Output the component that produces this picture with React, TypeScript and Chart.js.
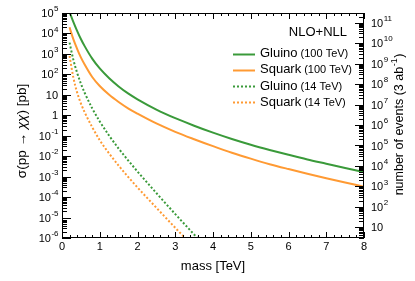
import React, { useEffect, useRef } from 'react';
import { Chart, registerables } from 'chart.js';

Chart.register(...registerables);

// ---------- data (cross sections in pb) ----------
const massesHigh = [0.2, 0.3, 0.4, 0.5, 0.6, 0.8, 1, 1.25, 1.5, 1.75, 2, 2.5, 3, 3.5, 4, 4.5, 5, 5.5, 6, 6.5, 7, 7.5, 8];
const gluino100 = [1.12e5, 3.72e4, 1.35e4, 5.37e3, 2.4e3, 589, 195, 64.6, 25.7, 11.7, 6.03, 1.91, 0.724, 0.309, 0.141, 0.0692, 0.0363, 0.0202, 0.0117, 6.92e-3, 4.27e-3, 2.63e-3, 1.66e-3];
const squark100 = [2.0e4, 5.25e3, 1.78e3, 676, 302, 74.1, 26.9, 10.0, 4.47, 2.19, 1.2, 0.398, 0.155, 0.0676, 0.0309, 0.0148, 7.59e-3, 4.07e-3, 2.34e-3, 1.38e-3, 8.32e-4, 5.13e-4, 3.24e-4];

const massesLow = [0.2, 0.3, 0.4, 0.5, 0.6, 0.8, 1, 1.25, 1.5, 1.75, 2, 2.5, 3, 3.5, 4];
const gluino14 = [3.55e3, 525, 120, 35.5, 12.6, 2.19, 0.501, 0.1, 0.0237, 6.31e-3, 1.78e-3, 1.58e-4, 1.48e-5, 1.48e-6, 1.48e-7];
const squark14 = [794, 70.8, 13.2, 3.8, 1.41, 0.263, 0.0603, 0.0135, 3.47e-3, 9.77e-4, 2.95e-4, 3.02e-5, 3.16e-6, 3.55e-7, 4.0e-8];

// ---------- tick labels ----------
const xTickValues = [0, 1, 2, 3, 4, 5, 6, 7, 8];
const leftExponents = [5, 4, 3, 2, 1, 0, -1, -2, -3, -4, -5, -6];
const rightExponents = [11, 10, 9, 8, 7, 6, 5, 4, 3, 2, 1];

const legendNames = ['Gluino', 'Squark', 'Gluino', 'Squark'];
const legendEnergies = ['(100 TeV)', '(100 TeV)', '(14 TeV)', '(14 TeV)'];
const legendHeader = 'NLO+NLL';
const xTitle = 'mass [TeV]';
const luminosityPerPb = 3e6; // 3 ab^-1 in pb^-1

const GREEN = '#3a9a3a';
const ORANGE = '#ff9a33';
const FONT = '"Liberation Sans", Arial, Helvetica, sans-serif';

function drawPow(ctx: CanvasRenderingContext2D, e: number, x: number, y: number, align: 'left' | 'right') {
  let base = '10';
  let sup = '';
  if (e === 0) base = '1';
  else if (e !== 1) sup = String(e);
  ctx.font = `11px ${FONT}`;
  const bw = ctx.measureText(base).width;
  ctx.font = `8px ${FONT}`;
  const sw = sup ? ctx.measureText(sup).width : 0;
  const x0 = align === 'right' ? x - bw - sw : x;
  ctx.textAlign = 'left';
  ctx.textBaseline = 'middle';
  ctx.font = `11px ${FONT}`;
  ctx.fillText(base, x0, y);
  if (sup) {
    ctx.font = `8px ${FONT}`;
    ctx.fillText(sup, x0 + bw + 0.5, y - 5);
  }
}

const decorPlugin = {
  id: 'decor',
  afterDraw(chart: any) {
    const ctx: CanvasRenderingContext2D = chart.ctx;
    const { left, right, top, bottom } = chart.chartArea;
    const xs = chart.scales.x;
    const yl = chart.scales.y;
    const yr = chart.scales.y2;
    ctx.save();
    ctx.fillStyle = '#000';
    ctx.strokeStyle = '#000';
    ctx.lineWidth = 1;

    // frame
    ctx.strokeRect(left + 0.5, top + 0.5, right - left - 1, bottom - top - 1);

    const hline = (x1: number, x2: number, y: number) => {
      const yy = Math.round(y) + 0.5;
      ctx.beginPath();
      ctx.moveTo(x1, yy);
      ctx.lineTo(x2, yy);
      ctx.stroke();
    };
    const vline = (x: number, y1: number, y2: number) => {
      const xx = Math.round(x) + 0.5;
      ctx.beginPath();
      ctx.moveTo(xx, y1);
      ctx.lineTo(xx, y2);
      ctx.stroke();
    };

    // left axis ticks
    for (let e = -7; e <= 5; e++) {
      for (let k = 1; k <= 9; k++) {
        const v = k * Math.pow(10, e);
        if (v < yl.min * 0.999 || v > yl.max * 1.001) continue;
        const y = yl.getPixelForValue(v);
        hline(left, left + (k === 1 ? 9 : 5), y);
      }
    }
    // right axis ticks
    for (let e = 0; e <= 11; e++) {
      for (let k = 1; k <= 9; k++) {
        const v = k * Math.pow(10, e);
        if (v < yr.min * 0.999 || v > yr.max * 1.001) continue;
        const y = yr.getPixelForValue(v);
        hline(right - (k === 1 ? 9 : 5), right, y);
      }
    }
    // x ticks (top and bottom)
    for (let i = 0; i <= 40; i++) {
      const m = i * 0.2;
      const px = xs.getPixelForValue(m);
      const len = i % 5 === 0 ? 6 : 3;
      vline(px, bottom - len, bottom);
      vline(px, top, top + len);
    }

    // x tick labels
    ctx.font = `11px ${FONT}`;
    ctx.textAlign = 'center';
    ctx.textBaseline = 'middle';
    xTickValues.forEach((m) => {
      ctx.fillText(String(m), xs.getPixelForValue(m), bottom + 9);
    });
    // left tick labels
    leftExponents.forEach((e) => drawPow(ctx, e, left - 4, yl.getPixelForValue(Math.pow(10, e)) + 1, 'right'));
    // right tick labels
    rightExponents.forEach((e) => drawPow(ctx, e, right + 7, yr.getPixelForValue(Math.pow(10, e)) + 1, 'left'));

    // x title
    ctx.font = `13px ${FONT}`;
    ctx.textAlign = 'center';
    ctx.fillText(xTitle, (left + right) / 2, 266);

    // left title
    ctx.save();
    ctx.translate(22, 131);
    ctx.rotate(-Math.PI / 2);
    {
      const parts: [string, string][] = [
        ['σ(pp → ', `13.5px ${FONT}`],
        ['χχ', `italic 13.5px ${FONT}`],
        [') [pb]', `13.5px ${FONT}`],
      ];
      let total = 0;
      parts.forEach(([t, f]) => { ctx.font = f; total += ctx.measureText(t).width; });
      let cx = -total / 2;
      ctx.textAlign = 'left';
      ctx.textBaseline = 'middle';
      parts.forEach(([t, f]) => { ctx.font = f; ctx.fillText(t, cx, 0); cx += ctx.measureText(t).width; });
    }
    ctx.restore();

    // right title
    ctx.save();
    ctx.translate(400, 125);
    ctx.rotate(-Math.PI / 2);
    {
      ctx.textAlign = 'left';
      ctx.textBaseline = 'middle';
      const f1 = `12.5px ${FONT}`;
      const f2 = `9px ${FONT}`;
      const a = 'number of events (3 ab';
      const b = '-1';
      const c = ')';
      ctx.font = f1; const wa = ctx.measureText(a).width; const wc = ctx.measureText(c).width;
      ctx.font = f2; const wb = ctx.measureText(b).width;
      let cx = -(wa + wb + wc) / 2;
      ctx.font = f1; ctx.fillText(a, cx, 0); cx += wa;
      ctx.font = f2; ctx.fillText(b, cx + 0.5, -5); cx += wb + 1;
      ctx.font = f1; ctx.fillText(c, cx, 0);
    }
    ctx.restore();

    // legend
    ctx.font = `13px ${FONT}`;
    ctx.textAlign = 'right';
    ctx.textBaseline = 'middle';
    ctx.fillText(legendHeader, 347, 32);
    const rows = [53.5, 69.5, 86, 102];
    chart.data.datasets.forEach((ds: any, i: number) => {
      const y = Math.round(rows[i]) + 0.5;
      ctx.save();
      ctx.strokeStyle = ds.borderColor;
      ctx.lineWidth = 2;
      ctx.setLineDash(ds.borderDash || []);
      ctx.beginPath();
      ctx.moveTo(233, y);
      ctx.lineTo(255, y);
      ctx.stroke();
      ctx.restore();
      ctx.textAlign = 'left';
      ctx.font = `13px ${FONT}`;
      ctx.fillText(legendNames[i], 260, rows[i]);
      const w = ctx.measureText(legendNames[i]).width;
      ctx.font = `11px ${FONT}`;
      ctx.fillText(legendEnergies[i], 260 + w + 3, rows[i] + 0.5);
    });

    ctx.restore();
  },
};

export default function App() {
  const ref = useRef<HTMLCanvasElement | null>(null);
  useEffect(() => {
    if (!ref.current) return;
    const mk = (xs: number[], ys: number[]) => xs.map((m, i) => ({ x: m, y: ys[i] }));
    const chart = new Chart(ref.current, {
      type: 'line',
      data: {
        datasets: [
          { label: 'Gluino (100 TeV)', data: mk(massesHigh, gluino100), borderColor: GREEN, borderWidth: 2, pointRadius: 0, cubicInterpolationMode: 'monotone', fill: false },
          { label: 'Squark (100 TeV)', data: mk(massesHigh, squark100), borderColor: ORANGE, borderWidth: 2, pointRadius: 0, cubicInterpolationMode: 'monotone', fill: false },
          { label: 'Gluino (14 TeV)', data: mk(massesLow, gluino14), borderColor: GREEN, borderWidth: 2, borderDash: [2, 2], pointRadius: 0, cubicInterpolationMode: 'monotone', fill: false },
          { label: 'Squark (14 TeV)', data: mk(massesLow, squark14), borderColor: ORANGE, borderWidth: 2, borderDash: [2, 2], pointRadius: 0, cubicInterpolationMode: 'monotone', fill: false },
        ],
      } as any,
      options: {
        animation: false,
        responsive: false,
        maintainAspectRatio: false,
        devicePixelRatio: 1,
        layout: { padding: { top: 13, left: 0, right: 0, bottom: 0 } },
        plugins: { legend: { display: false }, tooltip: { enabled: false } },
        scales: {
          x: {
            type: 'linear', min: 0, max: 8, position: 'bottom',
            grid: { display: false }, border: { display: false }, ticks: { display: false },
            afterFit: (s: any) => { s.height = 43; },
          },
          y: {
            type: 'logarithmic', min: 1e-6, max: 1e5, position: 'left',
            grid: { display: false }, border: { display: false }, ticks: { display: false },
            afterFit: (s: any) => { s.width = 62; },
          },
          y2: {
            type: 'logarithmic', min: 1e-6 * luminosityPerPb, max: 1e5 * luminosityPerPb, position: 'right',
            grid: { display: false }, border: { display: false }, ticks: { display: false },
            afterFit: (s: any) => { s.width = 51; },
          },
        },
      } as any,
      plugins: [decorPlugin],
    });
    return () => chart.destroy();
  }, []);
  return (
    <div style={{ position: 'absolute', left: 0, top: 0, width: 415, height: 281, background: '#fff' }}>
      <canvas ref={ref} width={415} height={281} style={{ display: 'block' }} />
    </div>
  );
}
